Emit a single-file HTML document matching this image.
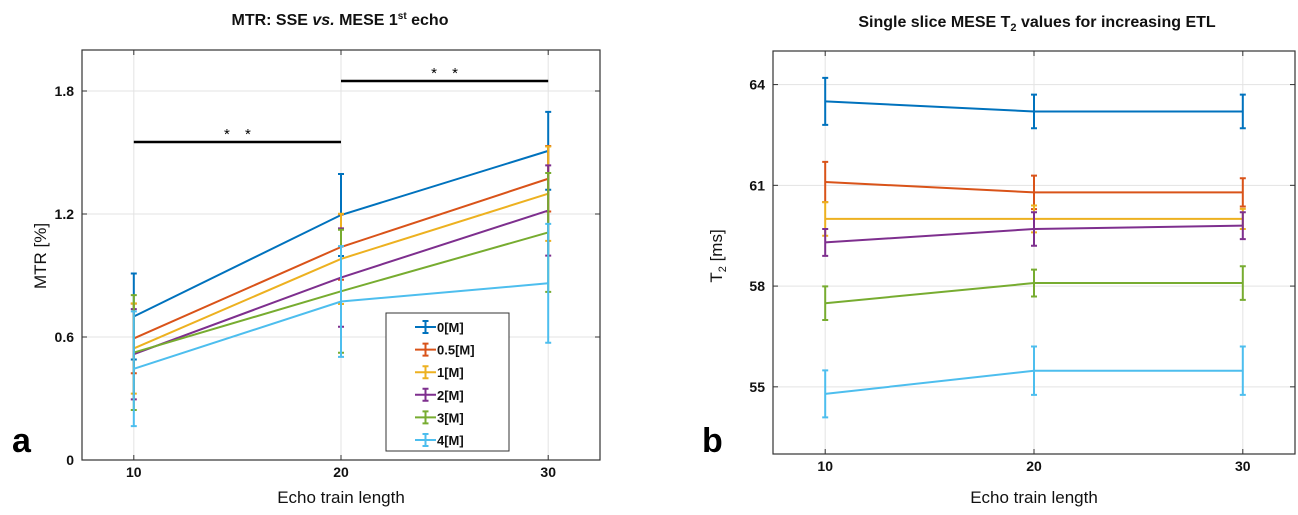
<!DOCTYPE html>
<html><head><meta charset="utf-8"><style>
body{margin:0;background:#fff;}
svg{display:block;font-family:"Liberation Sans",sans-serif;}
</style></head><body>
<svg id="fig" width="1298" height="515" viewBox="0 0 1298 515"></svg>
<script>
const categories=[10,20,30];
const seriesNames=["0[M]","0.5[M]","1[M]","2[M]","3[M]","4[M]"];
const colors=["#0072BD","#D95319","#EDB120","#7E2F8E","#77AC30","#4DBEEE"];
// Panel a: MTR values
const mtr0=[0.70,1.195,1.508];
const mtr05=[0.593,1.039,1.372];
const mtr1=[0.544,0.981,1.299];
const mtr2=[0.516,0.89,1.217];
const mtr3=[0.524,0.823,1.11];
const mtr4=[0.445,0.773,0.862];
const mtrErr0=[0.21,0.20,0.19];
const mtrErr05=[0.17,0.16,0.16];
const mtrErr1=[0.22,0.22,0.23];
const mtrErr2=[0.22,0.24,0.22];
const mtrErr3=[0.28,0.30,0.29];
const mtrErr4=[0.28,0.27,0.29];
const mtrTicks=[0,0.6,1.2,1.8];
const mtrTickLabels=["0","0.6","1.2","1.8"];
// Panel b: T2 values
const t20=[63.5,63.2,63.2];
const t205=[61.1,60.79,60.79];
const t21=[60.0,60.0,60.0];
const t22=[59.3,59.7,59.8];
const t23=[57.49,58.09,58.09];
const t24=[54.79,55.48,55.48];
const t2Err0=[0.7,0.5,0.5];
const t2Err05=[0.6,0.5,0.42];
const t2Err1=[0.5,0.4,0.3];
const t2Err2=[0.4,0.5,0.4];
const t2Err3=[0.5,0.4,0.5];
const t2Err4=[0.7,0.72,0.72];
const t2Ticks=[55,58,61,64];
const t2TickLabels=["55","58","61","64"];
const xTickLabels=["10","20","30"];

const NS="http://www.w3.org/2000/svg";
const svg=document.getElementById('fig');
function mk(tag,attrs,parent){const e=document.createElementNS(NS,tag);for(const k in attrs)e.setAttribute(k,attrs[k]);(parent||svg).appendChild(e);return e;}

function panel(opt){
  const g=mk('g',{});
  
  
  const X=v=>opt.L+(v-opt.xmin)/(opt.xmax-opt.xmin)*(opt.R-opt.L);
  const Y=v=>opt.B-(v-opt.ymin)/(opt.ymax-opt.ymin)*(opt.B-opt.T);
  categories.forEach((c,i)=>{
    const l=mk('line',{x1:X(c),x2:X(c),y1:opt.T,y2:opt.B,stroke:"#e3e3e3","stroke-width":1},g);
    
    
    mk('line',{x1:X(c),x2:X(c),y1:opt.B,y2:opt.B-5,stroke:"#333"},g);
    mk('line',{x1:X(c),x2:X(c),y1:opt.T,y2:opt.T+5,stroke:"#333"},g);
    const t=mk('text',{x:X(c),y:opt.B+17,"text-anchor":"middle","font-size":14,"font-weight":"bold",fill:"#111"},g);
    t.textContent=xTickLabels[i];
    
    
  });
  opt.ticks.forEach((v,i)=>{
    const l=mk('line',{x1:opt.L,x2:opt.R,y1:Y(v),y2:Y(v),stroke:"#e3e3e3","stroke-width":1},g);
    
    
    mk('line',{x1:opt.L,x2:opt.L+5,y1:Y(v),y2:Y(v),stroke:"#333"},g);
    mk('line',{x1:opt.R,x2:opt.R-5,y1:Y(v),y2:Y(v),stroke:"#333"},g);
    const t=mk('text',{x:opt.L-8,y:Y(v)+5,"text-anchor":"end","font-size":14,"font-weight":"bold",fill:"#111"},g);
    t.textContent=opt.tickLabels[i];
    
    
  });
  const box=mk('rect',{x:opt.L,y:opt.T,width:opt.R-opt.L,height:opt.B-opt.T,fill:"none",stroke:"#333","stroke-width":1.2},g);
  
  
  opt.series.forEach((s,si)=>{
    const sg=mk('g',{},g);
    
    
    const pts=categories.map((c,i)=>X(c)+','+Y(s[i])).join(' ');
    const pl=mk('polyline',{points:pts,fill:"none",stroke:colors[si],"stroke-width":2},sg);
    
    
    categories.forEach((c,i)=>{
      const e=opt.errs[si][i],x=X(c),y1=Y(s[i]+e),y2=Y(s[i]-e);
      const eb=mk('path',{d:`M${x},${y1}V${y2}M${x-3},${y1}H${x+3}M${x-3},${y2}H${x+3}`,fill:"none",stroke:colors[si],"stroke-width":2},sg);
      
      
    });
  });
  return {X,Y,g};
}

const pa=panel({name:'panel-a',L:82,R:600,T:50,B:460,xmin:7.5,xmax:32.5,ymin:0,ymax:2.0,ticks:mtrTicks,tickLabels:mtrTickLabels,
  series:[mtr0,mtr05,mtr1,mtr2,mtr3,mtr4],errs:[mtrErr0,mtrErr05,mtrErr1,mtrErr2,mtrErr3,mtrErr4]});
const pb=panel({name:'panel-b',L:773,R:1295,T:51,B:454,xmin:7.5,xmax:32.5,ymin:53,ymax:65,ticks:t2Ticks,tickLabels:t2TickLabels,
  series:[t20,t205,t21,t22,t23,t24],errs:[t2Err0,t2Err05,t2Err1,t2Err2,t2Err3,t2Err4]});

[[10,20,142],[20,30,81]].forEach(b=>{
  const l=mk('line',{x1:pa.X(b[0]),x2:pa.X(b[1]),y1:b[2],y2:b[2],stroke:"#000","stroke-width":2.5});
  
  
  const cx=(pa.X(b[0])+pa.X(b[1]))/2;
  [-10.5,10.5].forEach(dx=>{
    const t=mk('text',{x:cx+dx,y:b[2]-3,"text-anchor":"middle","font-size":15,fill:"#000"});
    t.textContent="*";
    
    
  });
});

const lg=mk('g',{});


mk('rect',{x:386,y:313,width:123,height:138,fill:"#fff",stroke:"#333","stroke-width":1},lg);
seriesNames.forEach((n,i)=>{
  const y=327+i*22.6;
  const e=mk('g',{},lg);
  
  
  mk('path',{d:`M415,${y}H436M425.5,${y-6}V${y+6}M422.5,${y-6}H428.5M422.5,${y+6}H428.5`,stroke:colors[i],"stroke-width":2,fill:"none"},e);
  const t=mk('text',{x:437,y:y+5,"font-size":13,"font-weight":"bold",fill:"#111"},e);
  t.textContent=n;
});

function txt(name,attrs,content,html){const t=mk('text',attrs);if(html)t.innerHTML=content;else t.textContent=content;return t;}
txt('title-a',{x:340,y:25,"text-anchor":"middle","font-size":16,"font-weight":"bold",fill:"#111"},'MTR: SSE <tspan font-style="italic">vs.</tspan> MESE 1<tspan font-size="10" dy="-6">st</tspan><tspan dy="6"> echo</tspan>',true);
txt('title-b',{x:1037,y:27,"text-anchor":"middle","font-size":16,"font-weight":"bold",fill:"#111"},'Single slice MESE T<tspan font-size="11" dy="4">2</tspan><tspan dy="-4"> values for increasing ETL</tspan>',true);
txt('x-axis-title-a',{x:341,y:503,"text-anchor":"middle","font-size":17,fill:"#111"},'Echo train length');
txt('x-axis-title-b',{x:1034,y:503,"text-anchor":"middle","font-size":17,fill:"#111"},'Echo train length');
txt('y-axis-title-a',{x:0,y:0,transform:"translate(46,256) rotate(-90)","text-anchor":"middle","font-size":17,fill:"#111"},'MTR [%]');
txt('y-axis-title-b',{x:0,y:0,transform:"translate(722,256) rotate(-90)","text-anchor":"middle","font-size":17,fill:"#111"},'T<tspan font-size="11" dy="4">2</tspan><tspan dy="-4"> [ms]</tspan>',true);
txt('panel-label-a',{x:12,y:452,"font-size":34,"font-weight":"bold",fill:"#000"},'a');
txt('panel-label-b',{x:702,y:452,"font-size":34,"font-weight":"bold",fill:"#000"},'b');
</script>
</body></html>
